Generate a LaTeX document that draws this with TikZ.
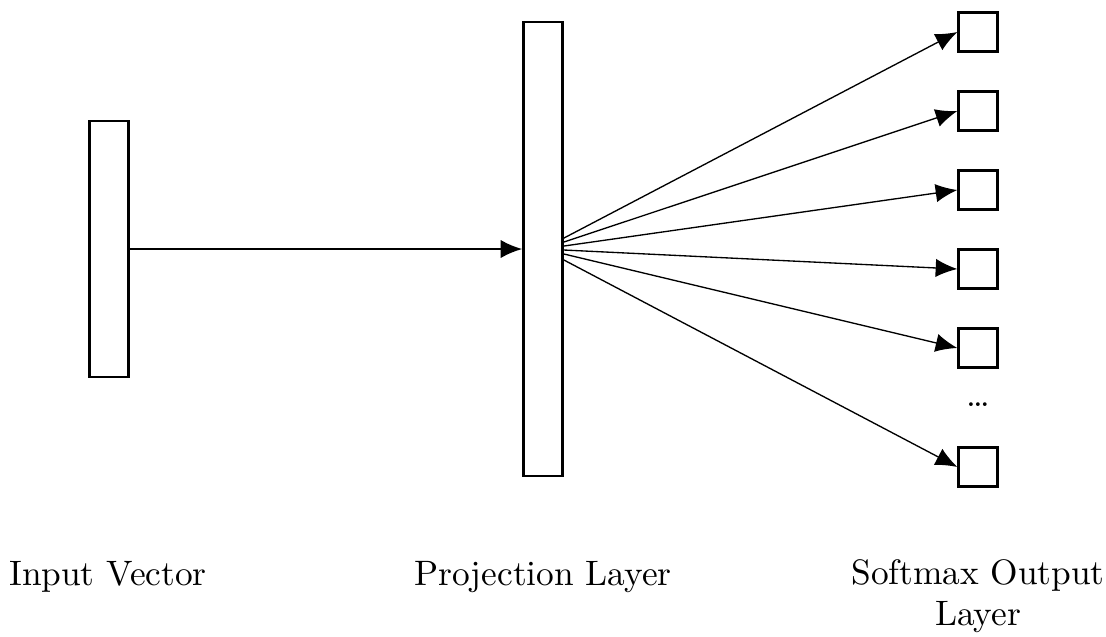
\documentclass[tikz,border=0pt]{standalone}
\usetikzlibrary{arrows.meta,backgrounds}
\begin{document}
\begin{tikzpicture}[x=0.3pt,y=-0.3pt,line width=0.7pt,
  unit/.style={draw,fill=white,inner sep=0pt,minimum width=11.7pt},
  outbox/.style={unit,minimum height=11.7pt},
  lbl/.style={inner sep=0pt,anchor=base,align=center,font=\fontsize{10.6}{12.2}\selectfont},
  conn/.style={-{Latex[length=6.5pt,width=5.5pt]}}]
\useasboundingbox (0,0) rectangle (1106,636);
\node[unit,minimum height=76.8pt] (input) at (109,249) {};
\node[unit,minimum height=136.2pt] (proj) at (543,249) {};
\foreach \i/\y in {1/32,2/111,3/190,4/269,5/348,6/467}
  \node[outbox] (b\i) at (978,\y) {};
\node[lbl] (dots) at (978,406) {\dots};
\draw[conn] (input.east) -- (proj.west);
\begin{scope}[on background layer]
\foreach \i in {1,...,6}
  \draw[conn] (proj.center) -- (b\i.west);
\end{scope}
\node[lbl] (l1) at (108,585) {Input Vector};
\node[lbl] (l2) at (543,585) {Projection Layer};
\node[lbl] (l3) at (978,625) {Softmax Output\\Layer};
\end{tikzpicture}
\end{document}
